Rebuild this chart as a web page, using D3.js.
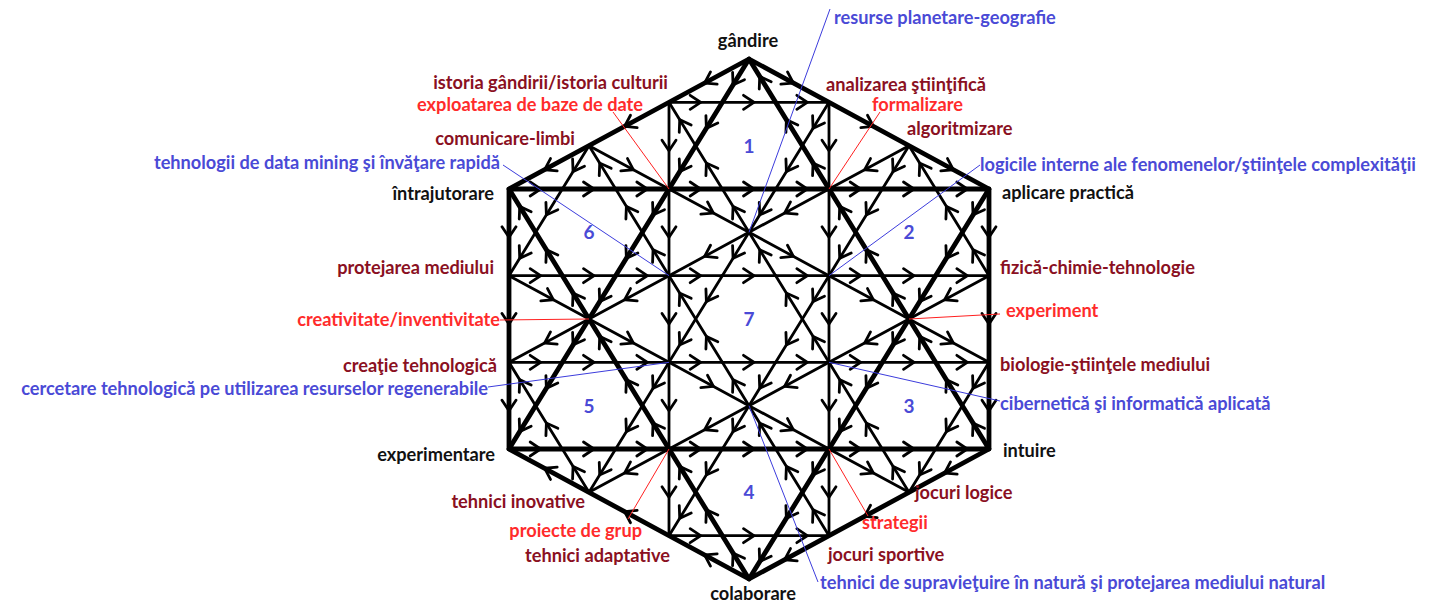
<!DOCTYPE html>
<html><head><meta charset="utf-8">
<script src="https://cdn.jsdelivr.net/npm/d3@7"></script>
<style>
html,body{margin:0;padding:0;background:#fff;}
svg{display:block;}
text{font-family:Lato,"Open Sans",sans-serif;font-weight:700;}
</style>
</head><body>
<svg id="chart" width="1442" height="604"></svg>
<script>
// ---------- DATA ----------
// seven hexagonal cells: id and centre on the triangular lattice (grid units)
const regionIds     = ["1","2","3","4","5","6","7"];
const regionCenters = [[3,2],[5,4],[5,8],[3,10],[1,8],[1,4],[3,6]];

// outer hexagon and the great hexagram (grid units)
const outerHex  = [[3,0],[6,3],[6,9],[3,12],[0,9],[0,3]];
const bigStarA  = [[3,0],[0,9],[6,9]];
const bigStarB  = [[0,3],[6,3],[3,12]];

// direction of flow around the outer boundary (from -> to)
const boundaryFlow = [[[3,0],[0,3]],[[3,0],[6,3]],[[6,3],[6,9]],[[6,9],[3,12]],[[3,12],[0,9]],[[0,3],[0,9]]];

// text labels
const labelTexts = [
  "gândire","resurse planetare-geografie","istoria gândirii/istoria culturii","exploatarea de baze de date",
  "analizarea ştiinţifică","formalizare","algoritmizare","comunicare-limbi",
  "tehnologii de data mining şi învăţare rapidă","logicile interne ale fenomenelor/ştiinţele complexităţii",
  "întrajutorare","aplicare practică","protejarea mediului","fizică-chimie-tehnologie",
  "creativitate/inventivitate","experiment","creaţie tehnologică","biologie-ştiinţele mediului",
  "cercetare tehnologică pe utilizarea resurselor regenerabile","cibernetică şi informatică aplicată",
  "experimentare","intuire","jocuri logice","tehnici inovative","strategii","proiecte de grup",
  "jocuri sportive","tehnici adaptative","tehnici de supravieţuire în natură şi protejarea mediului natural","colaborare"
];
const labelKinds = [
  "pole","research","domain","method",
  "domain","method","domain","domain",
  "research","research",
  "pole","pole","domain","domain",
  "method","method","domain","domain",
  "research","research",
  "pole","pole","domain","domain","method","method",
  "domain","domain","research","pole"
];
// grid node each leader line points at (null = no leader)
const leaderTargets = [
  null,[3,4],null,[2,3],
  null,[4,3],null,null,
  [2,5],[4,5],
  null,null,null,null,
  [1,6],[5,6],null,null,
  [2,7],[4,7],
  null,null,null,null,[4,9],[2,9],
  null,null,[3,8],null
];

// ---------- LAYOUT (pixels) ----------
const labelLayout = [ // x, y(centre), anchor, leader start x, y
  [748,41,"middle"],[834,18,"start",830,9],[668,83,"end"],[643,105,"end",613,112],
  [826,85,"start"],[872,105,"start",880,112],[907,129,"start"],[575,139,"end"],
  [500,163,"end",503,165],[980,165,"start",980,165],
  [494,194,"end"],[1002,193,"start"],[494,268,"end"],[1000,268,"start"],
  [500,320,"end",500,320],[1006,311,"start",1000,314],[497,366,"end"],[1000,365,"start"],
  [488,389,"end",488,387],[1000,404,"start",1000,401],
  [495,455,"end"],[1003,451,"start"],[915,493,"start"],[585,502,"end"],[862,523,"start",868,516],[642,531,"end",628,519],
  [828,555,"start"],[670,556,"end"],[820,583,"start",818,582],[753,594,"middle"]
];
const kindColor = {pole:"#111111", domain:"#8a1022", method:"#ff2b2b", research:"#4a4ad6"};

// ---------- SCALES ----------
const x = d3.scaleLinear().domain([0,6]).range([509,989]);
const y = d3.scaleLinear().domain([0,12]).range([59,579]);
const P = p => [x(p[0]), y(p[1])];

const svg = d3.select("#chart");

// ---------- BUILD SEGMENTS ----------
const segs = [];
const seen = new Set();
const key = (a,b) => { const k1=a.map(v=>v.toFixed(3)).join(","), k2=b.map(v=>v.toFixed(3)).join(","); return k1<k2? k1+"|"+k2 : k2+"|"+k1; };
function add(a,b){ const k=key(a,b); if(seen.has(k)) return; seen.add(k); segs.push([a,b]); }
function addSplit(a,b,n){ for(let i=0;i<n;i++){ const t0=i/n,t1=(i+1)/n;
  add([a[0]+(b[0]-a[0])*t0, a[1]+(b[1]-a[1])*t0],[a[0]+(b[0]-a[0])*t1, a[1]+(b[1]-a[1])*t1]); } }

// boundary first (its flow wins)
boundaryFlow.forEach(([a,b]) => {
  const steps = Math.max(Math.abs(b[0]-a[0]), Math.abs(b[1]-a[1])/ (a[0]===b[0]?2:1));
  addSplit(a,b,steps);
});
regionCenters.forEach(([cx,cy]) => {
  const v = {top:[cx,cy-2], ul:[cx-1,cy-1], ur:[cx+1,cy-1], ll:[cx-1,cy+1], lr:[cx+1,cy+1], bot:[cx,cy+2]};
  // hexagon edges flow downward
  [["top","ul"],["top","ur"],["ul","ll"],["ur","lr"],["ll","bot"],["lr","bot"]].forEach(([a,b])=>add(v[a],v[b]));
  // inner hexagram, each triangle circulating
  [["ll","lr"],["lr","top"],["top","ll"],["ul","ur"],["ur","bot"],["bot","ul"]].forEach(([a,b])=>addSplit(v[a],v[b],3));
});

// ---------- DRAW ----------
const g = svg.append("g");
g.selectAll("line.seg").data(segs).join("line").attr("class","seg")
  .attr("x1",d=>x(d[0][0])).attr("y1",d=>y(d[0][1]))
  .attr("x2",d=>x(d[1][0])).attr("y2",d=>y(d[1][1]))
  .attr("stroke","#000").attr("stroke-width",2.8).attr("stroke-linecap","round");

// thick outline and great hexagram
const thick = [outerHex, bigStarA, bigStarB];
g.selectAll("path.thick").data(thick).join("path").attr("class","thick")
  .attr("d",d=>d3.line()(d.map(P))+"Z")
  .attr("fill","none").attr("stroke","#000").attr("stroke-width",4.8).attr("stroke-linejoin","round");

// chevron arrows
function chevron(d){
  const [x1,y1]=P(d[0]), [x2,y2]=P(d[1]);
  const L=Math.hypot(x2-x1,y2-y1), ux=(x2-x1)/L, uy=(y2-y1)/L, nx=-uy, ny=ux;
  const mx=(x1+x2)/2, my=(y1+y2)/2;
  const tx=mx+ux*5, ty=my+uy*5, bl=10.5, sp=7;
  return `M${tx-ux*bl+nx*sp},${ty-uy*bl+ny*sp}L${tx},${ty}L${tx-ux*bl-nx*sp},${ty-uy*bl-ny*sp}`;
}
g.selectAll("path.arr").data(segs).join("path").attr("class","arr")
  .attr("d",chevron).attr("fill","none").attr("stroke","#000").attr("stroke-width",2.8)
  .attr("stroke-linecap","round").attr("stroke-linejoin","miter");

// leader lines
const leaders = labelTexts.map((t,i)=>({i, target:leaderTargets[i], lay:labelLayout[i]})).filter(d=>d.target);
svg.selectAll("line.lead").data(leaders).join("line").attr("class","lead")
  .attr("x1",d=>d.lay[3]).attr("y1",d=>d.lay[4])
  .attr("x2",d=>x(d.target[0])).attr("y2",d=>y(d.target[1]))
  .attr("stroke",d=>labelKinds[d.i]==="method"?"#ff2020":"#3c3cdc").attr("stroke-width",1);

// region numbers
svg.selectAll("text.reg").data(regionIds).join("text").attr("class","reg")
  .attr("x",(d,i)=>x(regionCenters[i][0])).attr("y",(d,i)=>y(regionCenters[i][1]))
  .attr("dy","0.36em").attr("text-anchor","middle").attr("font-size",19)
  .attr("fill","#4a4ad6").text(d=>d);

// labels
svg.selectAll("text.lab").data(labelTexts).join("text").attr("class","lab")
  .attr("x",(d,i)=>labelLayout[i][0]).attr("y",(d,i)=>labelLayout[i][1])
  .attr("dy","0.35em").attr("text-anchor",(d,i)=>labelLayout[i][2])
  .attr("font-size",18.2).attr("fill",(d,i)=>kindColor[labelKinds[i]]).text(d=>d);
</script>
</body></html>
